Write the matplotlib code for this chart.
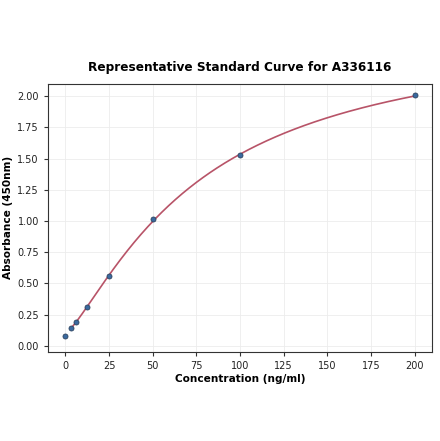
import numpy as np
import matplotlib.pyplot as plt

conc = np.array([0, 3.125, 6.25, 12.5, 25, 50, 100, 200])
absorb = np.array([0.08, 0.14, 0.19, 0.31, 0.555, 1.015, 1.525, 2.01])
xticks = [0, 25, 50, 75, 100, 125, 150, 175, 200]
yticks = [0.0, 0.25, 0.5, 0.75, 1.0, 1.25, 1.5, 1.75, 2.0]


def fit_4pl(x, y):
    # crude grid search over a,d with a linear fit for b,c
    best = None
    for a in np.linspace(-0.2, 0.1, 31):
        for d in np.linspace(2.1, 5.0, 59):
            z = (a - d) / (y - d) - 1
            if np.any(z <= 0):
                continue
            b, k = np.polyfit(np.log(x), np.log(z), 1)
            c = np.exp(-k / b)
            pred = d + (a - d) / (1 + (x / c) ** b)
            err = np.sum((pred - y) ** 2)
            if best is None or err < best[0]:
                best = (err, a, b, c, d)
    return best[1:]


mask = conc > 0
a, b, c, d = fit_4pl(conc[mask], absorb[mask])
xs = np.linspace(conc[mask].min(), conc.max(), 300)
ys = d + (a - d) / (1 + (xs / c) ** b)

fig, ax = plt.subplots(figsize=(4.4, 4.41), dpi=100)
ax.plot(xs, ys, color="#b85468", lw=1.2, zorder=2)
ax.scatter(conc, absorb, s=13, color="#3b6aa0", edgecolors="#2f4560", linewidths=0.6, zorder=3)

ax.set_xticks(xticks)
ax.set_yticks(yticks)
ax.set_xlim(-10, 210)
ax.set_ylim(-0.05, 2.1)
ax.tick_params(labelsize=7, length=3, color="#333333", labelcolor="#222222")
ax.grid(True, color="#ececec", lw=0.6)
ax.set_axisbelow(True)
for s in ax.spines.values():
    s.set_color("#333333")
ax.set_title("Representative Standard Curve for A336116", fontsize=8.7, fontweight="bold", pad=9)
ax.set_xlabel("Concentration (ng/ml)", fontsize=7.6, fontweight="bold", labelpad=2)
ax.set_ylabel("Absorbance (450nm)", fontsize=7.6, fontweight="bold", labelpad=3)

fig.subplots_adjust(left=0.109, right=0.982, top=0.81, bottom=0.202)
fig.savefig("out.png", dpi=100)
